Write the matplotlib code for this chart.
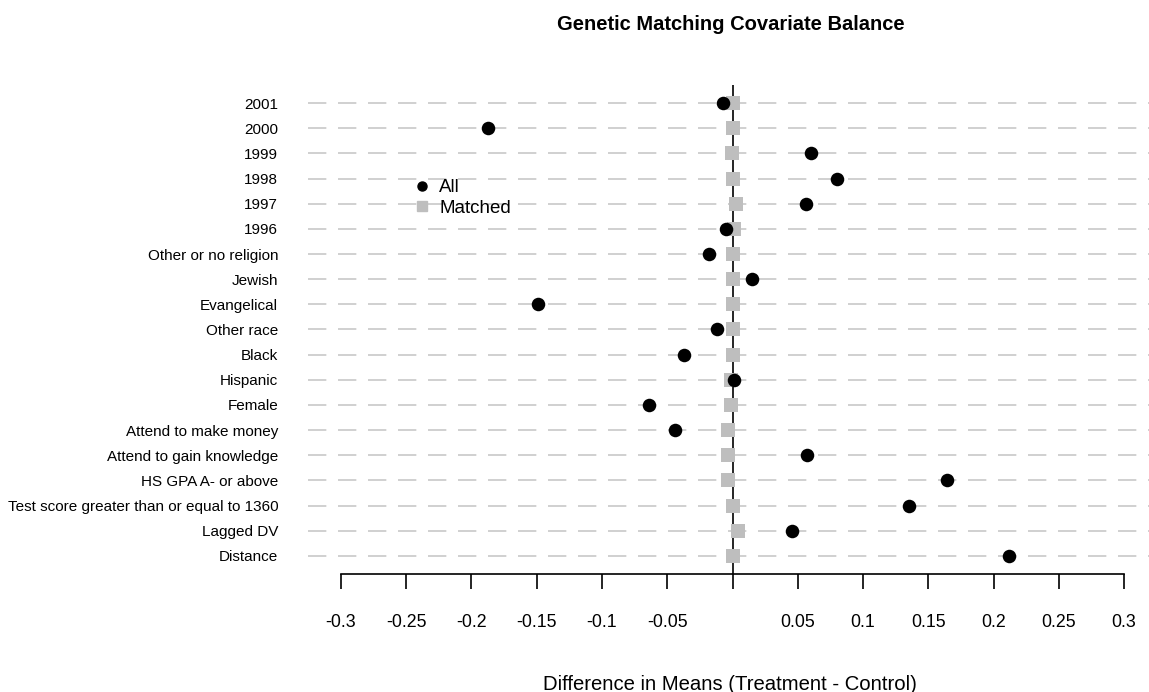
import matplotlib
matplotlib.use("Agg")
import matplotlib.pyplot as plt
from matplotlib.lines import Line2D

plt.rcParams['font.family'] = ['Liberation Sans', 'DejaVu Sans']

covariates = ["2001", "2000", "1999", "1998", "1997", "1996",
              "Other or no religion", "Jewish", "Evangelical", "Other race",
              "Black", "Hispanic", "Female", "Attend to make money",
              "Attend to gain knowledge", "HS GPA A- or above",
              "Test score greater than or equal to 1360", "Lagged DV", "Distance"]
all_diff = [-0.007, -0.187, 0.0605, 0.080, 0.056, -0.005,
            -0.018, 0.0146, -0.149, -0.0115,
            -0.0375, 0.0015, -0.064, -0.044,
            0.057, 0.164, 0.135, 0.0456, 0.212]
matched_diff = [0.0, 0.0, -0.0005, 0.0005, 0.0025, 0.001,
                0.0, 0.0, 0.0, 0.0,
                0.0, -0.001, -0.001, -0.0035,
                -0.0035, -0.0035, 0.0005, 0.004, 0.0]
xticks = [-0.3, -0.25, -0.2, -0.15, -0.1, -0.05, 0, 0.05, 0.1, 0.15, 0.2, 0.25, 0.3]
xticklabels = ["-0.3", "-0.25", "-0.2", "-0.15", "-0.1", "-0.05", "",
               "0.05", "0.1", "0.15", "0.2", "0.25", "0.3"]

W, H = 1149, 692
fig = plt.figure(figsize=(W / 100, H / 100), dpi=100)
ax = fig.add_axes([308 / W, 1 - 574 / H, 1 - 308 / W, (574 - 85) / H])

n = len(covariates)
ypos = list(range(n, 0, -1))

for y in ypos:
    ax.axhline(y, color="#c8c8c8", lw=1.2, ls=(0, (11, 7)), zorder=1)
ax.axvline(0, color="black", lw=1.2, zorder=2)

ax.scatter(matched_diff, ypos, marker="s", s=95, color="#bebebe", zorder=3, linewidths=0)
ax.scatter(all_diff, ypos, marker="o", s=95, color="black", zorder=4, linewidths=0)

ax.set_xlim((308 - 732.5) / 1305, (1149 - 732.5) / 1305)
ax.set_ylim(0.28, n + 0.72)

ax.set_yticks(ypos)
ax.set_yticklabels(covariates, fontsize=11)
ax.tick_params(axis="y", length=0, pad=21.5)

ax.set_xticks(xticks)
ax.set_xticklabels(xticklabels, fontsize=12.8)
ax.tick_params(axis="x", length=11, width=1.2, pad=18, direction="out")

for s in ["top", "right", "left"]:
    ax.spines[s].set_visible(False)
ax.spines["bottom"].set_bounds(-0.3, 0.3)
ax.spines["bottom"].set_linewidth(1.2)

fig.text(730 / W, 1 - 690 / H, "Difference in Means (Treatment - Control)",
         ha="center", va="baseline", fontsize=14.6)
fig.text(731 / W, 1 - 30 / H, "Genetic Matching Covariate Balance",
         ha="center", va="baseline", fontsize=14.5, fontweight="bold")

handles = [Line2D([], [], marker="o", ls="", color="black", markersize=6.5),
           Line2D([], [], marker="s", ls="", color="#bebebe", markersize=6.5)]
fig.legend(handles, ["All", "Matched"], loc="upper left",
           bbox_to_anchor=(413 / W, 1 - 179 / H), frameon=False,
           fontsize=13.5, handlelength=1.0, handletextpad=0.4,
           labelspacing=0.2, borderpad=0, borderaxespad=0)

fig.savefig("out.png", dpi=100)
